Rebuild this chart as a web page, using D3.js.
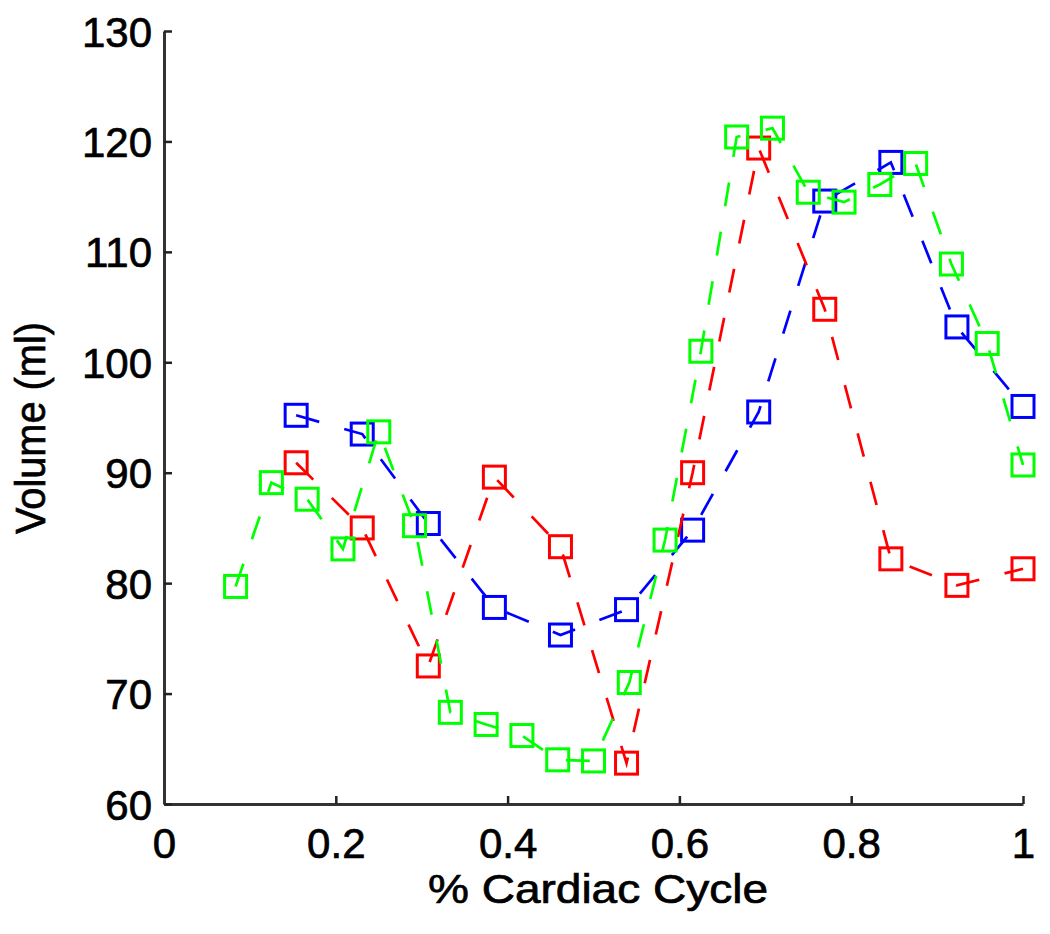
<!DOCTYPE html>
<html>
<head>
<meta charset="utf-8">
<script src="https://cdn.jsdelivr.net/npm/d3@7"></script>
<style>
  body { margin: 0; background: #fff; }
  text { font-family: "Liberation Sans", Helvetica, Arial, sans-serif; fill: #000; stroke: #000; stroke-width: 0.7px; }
</style>
</head>
<body>
<svg width="1050" height="934"></svg>
<script>
// 13 frames for blue/red, 24 for green
var blueX = [2,3,4,5,6,7,8,9,10,11,12,13].map(function(k){ return k / 13; });
var blueY = [95.2, 93.5, 85.4, 77.8, 75.3, 77.6, 84.8, 95.5, 114.6, 118.1, 103.2, 96.0];

var redX = [2,3,4,5,6,7,8,9,10,11,12,13].map(function(k){ return k / 13; });
var redY = [90.9, 85.0, 72.5, 89.6, 83.3, 63.7, 90.0, 119.4, 104.8, 82.2, 79.8, 81.3];

var greenX = [2,3,4,5,6,7,8,9,10,11,12,13,14,15,16,17,18,19,20,21,22,23,24].map(function(k){ return k / 24; });
var greenY = [79.7, 89.1, 87.6, 83.1, 93.7, 85.2, 68.3, 67.2, 66.2, 64.0, 63.9, 71.0, 83.9,
              101.0, 120.4, 121.2, 115.4, 114.5, 116.1, 118.0, 108.9, 101.7, 90.7];

var xTicks = [0, 0.2, 0.4, 0.6, 0.8, 1];
var yTicks = [60, 70, 80, 90, 100, 110, 120, 130];

var series = [
  {name: "blue",  color: "#0000ff", xs: blueX,  ys: blueY},
  {name: "red",   color: "#ff0000", xs: redX,   ys: redY},
  {name: "green", color: "#00ff00", xs: greenX, ys: greenY}
];

var svg = d3.select("svg");

var x = d3.scaleLinear().domain([0, 1]).range([164, 1023]);
var y = d3.scaleLinear().domain([60, 130]).range([804, 31]);

// axes (MATLAB style: ticks pointing inward, no box)
var xAxis = svg.append("g")
    .attr("transform", "translate(0," + y(60) + ")")
    .call(d3.axisBottom(x).tickValues(xTicks).tickSizeInner(-8).tickSizeOuter(0)
      .tickFormat(function(d){ return d === 0 || d === 1 ? d3.format("d")(d) : d3.format(".1f")(d); }));

var yAxis = svg.append("g")
    .attr("transform", "translate(" + x(0) + ",0)")
    .call(d3.axisLeft(y).tickValues(yTicks).tickSizeInner(-8).tickSizeOuter(0));

[xAxis, yAxis].forEach(function(a){
  a.select(".domain").attr("stroke", "#333").attr("stroke-width", 3);
  a.selectAll(".tick line").attr("stroke", "#222").attr("stroke-width", 2.5);
  a.selectAll(".tick text").style("font-size", "42px").attr("fill", "#000");
});
xAxis.selectAll(".tick text").attr("y", 24).attr("dy", "0.71em");
yAxis.selectAll(".tick text").attr("x", -12).attr("dy", "0.36em");

// lines
var line = d3.line()
    .x(function(d){ return x(d[0]); })
    .y(function(d){ return y(d[1]); });

series.forEach(function(s){
  var pts = s.xs.map(function(v, i){ return [v, s.ys[i]]; });
  var g = svg.append("g").attr("class", "series-" + s.name);

  g.append("path")
      .datum(pts)
      .attr("d", line)
      .attr("fill", "none")
      .attr("stroke", s.color)
      .attr("stroke-width", 2.7)
      .attr("stroke-dasharray", "24,26");

  var sz = 22;
  g.selectAll("rect")
      .data(pts)
      .enter().append("rect")
      .attr("x", function(d){ return x(d[0]) - sz / 2; })
      .attr("y", function(d){ return y(d[1]) - sz / 2; })
      .attr("width", sz)
      .attr("height", sz)
      .attr("fill", "none")
      .attr("stroke", s.color)
      .attr("stroke-width", 3);
});

// axis labels
svg.append("text")
    .attr("x", 598)
    .attr("y", 903)
    .attr("text-anchor", "middle")
    .attr("textLength", 340)
    .attr("lengthAdjust", "spacingAndGlyphs")
    .style("font-size", "41px")
    .text("% Cardiac Cycle");

svg.append("text")
    .attr("transform", "translate(45,428) rotate(-90)")
    .attr("text-anchor", "middle")
    .attr("textLength", 212)
    .attr("lengthAdjust", "spacingAndGlyphs")
    .style("font-size", "42px")
    .text("Volume (ml)");
</script>
</body>
</html>
